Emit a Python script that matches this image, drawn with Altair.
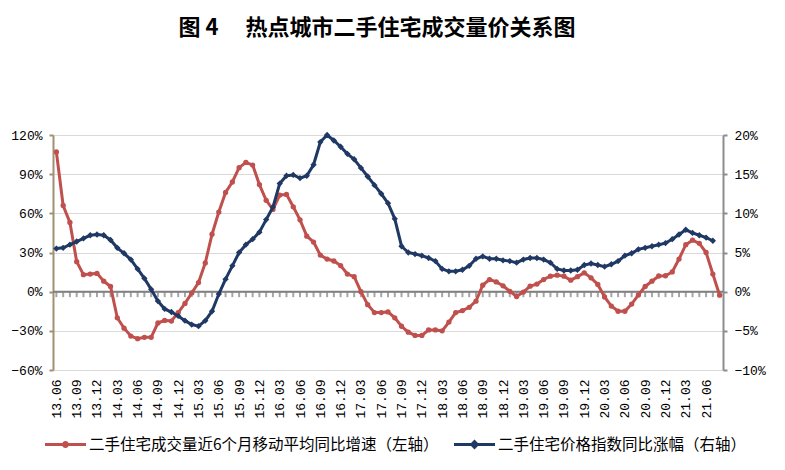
import altair as alt
import pandas as pd

# Month categories 2013.06 ... 2021.08 (labels shown every 3 months)
months = [f"{13 + (5 + k) // 12}.{(5 + k) % 12 + 1:02d}" for k in range(99)]
tick_labels = months[::3]

# 二手住宅成交量近6个月移动平均同比增速 (left axis, %)
red = [107, 66, 53, 23, 13, 13.5, 14, 8, 4, -20,
       -28, -34, -36, -35, -35, -24, -22, -22.5, -16, -9,
       -1, 7, 22, 44, 61, 76, 84, 95, 99, 97,
       82, 70, 63, 74, 74.5, 65, 55, 42.5, 38, 28,
       25, 23.5, 20, 13.5, 11.5, 0, -10, -16, -16, -15.5,
       -20, -26.5, -31, -33.5, -33.5, -29.3, -29.3, -30, -23.3, -16,
       -14.5, -12, -7.3, 5, 9.3, 7.5, 4.5, 0.3, -3.7, -0.3,
       4.2, 5.8, 9.3, 11.9, 12.6, 11.9, 8.8, 11.5, 14.4, 10.6,
       5.5, -4, -11, -15, -15, -9.5, -2.5, 4, 8, 12,
       12.2, 15.1, 25, 36, 39.4, 37, 30, 13.5, -2.7]

# 二手住宅价格指数同比涨幅 (right axis, %)
blue = [5.5, 5.6, 6.0, 6.4, 6.8, 7.2, 7.3, 7.2, 6.6, 5.6,
        4.9, 4.1, 2.9, 1.7, 0.3, -1.2, -2.2, -2.6, -3.1, -3.7,
        -4.2, -4.4, -3.7, -2.5, -0.3, 1.6, 3.3, 5.0, 6.0, 6.7,
        7.6, 9.2, 10.8, 13.8, 14.8, 14.9, 14.5, 14.8, 16.2, 19.1,
        20.0, 19.3, 18.5, 17.6, 16.9, 15.8, 14.7, 13.6, 12.5, 11.3,
        9.3, 5.8, 5.0, 4.8, 4.6, 4.3, 3.9, 2.9, 2.6, 2.6,
        2.8, 3.3, 4.2, 4.5, 4.2, 4.2, 4.0, 3.9, 3.7, 4.1,
        4.3, 4.3, 4.1, 3.7, 2.9, 2.7, 2.7, 2.8, 3.4, 3.6,
        3.4, 3.2, 3.5, 3.9, 4.6, 4.9, 5.4, 5.6, 5.8, 6.0,
        6.2, 6.7, 7.3, 7.9, 7.5, 7.2, 6.9, 6.5]

S1 = "二手住宅成交量近6个月移动平均同比增速（左轴）"
S2 = "二手住宅价格指数同比涨幅（右轴）"
RED = "#C0504D"
BLUE = "#1F3864"
CJK = "Noto Sans CJK SC"
NUM = "Liberation Mono"

# legend symbols: line segment with marker
PATH_RED = ("M-1 -0.075 H1 V0.075 H-1 Z "
            "M0.17 0 A0.17 0.17 0 1 1 -0.17 0 A0.17 0.17 0 1 1 0.17 0 Z")
PATH_BLUE = "M-1 -0.075 H1 V0.075 H-1 Z M0 -0.24 L0.24 0 L0 0.24 L-0.24 0 Z"

df_red = pd.DataFrame({"month": months[:len(red)], "value": red, "series": S1})
df_blue = pd.DataFrame({"month": months[:len(blue)], "value": blue, "series": S2})
df_ticks = pd.DataFrame({"month": months, "value": [0] * len(months)})
df_zero = pd.DataFrame({"value": [0]})

x_enc = alt.X(
    "month:O",
    scale=alt.Scale(type="point", padding=0.5, domain=months),
    axis=alt.Axis(values=tick_labels, labelAngle=270, ticks=False, domain=False,
                  grid=False, labelPadding=9, title=None, labelFont=NUM,
                  labelFontSize=13, labelColor="#000"),
)

yl_scale = alt.Scale(domain=[-60, 120], nice=False, zero=False)
yl_axis = alt.Axis(values=[-60, -30, 0, 30, 60, 90, 120], format="d",
                   labelExpr="datum.label + '%'", grid=True, gridColor="#D9D9D9",
                   gridWidth=1, domainColor="#9F9171", domainWidth=2,
                   tickColor="#9F9171", tickSize=4, tickWidth=2, labelPadding=7,
                   title=None, labelFont=NUM, labelFontSize=13, labelColor="#000")
yr_scale = alt.Scale(domain=[-10, 20], nice=False, zero=False)
yr_axis = alt.Axis(orient="right", values=[-10, -5, 0, 5, 10, 15, 20], format="d",
                   labelExpr="datum.label + '%'", grid=False, domainColor="#8C8C8C",
                   domainWidth=2, tickColor="#8C8C8C", tickSize=4, tickWidth=2,
                   labelPadding=7, title=None, labelFont=NUM, labelFontSize=13,
                   labelColor="#000")

yl = alt.Y("value:Q", scale=yl_scale, axis=yl_axis)
yr = alt.Y("value:Q", scale=yr_scale, axis=yr_axis)

leg = alt.Legend(title=None, orient="none", legendX=-8, legendY=289,
                 direction="horizontal", labelFont=CJK, labelFontSize=15.5,
                 labelColor="#000", labelLimit=600, symbolSize=1681,
                 columnPadding=15, labelOffset=3, symbolStrokeWidth=0)

zero_rule = alt.Chart(df_zero).mark_rule(color="#808080", strokeWidth=2).encode(y=yl)
zero_ticks = alt.Chart(df_ticks).mark_tick(
    orient="vertical", color="#808080", thickness=2, size=5, yOffset=3).encode(x=x_enc, y=yl)
red_line = alt.Chart(df_red).mark_line(color=RED, strokeWidth=3).encode(x=x_enc, y=yl)
red_pts = alt.Chart(df_red).mark_point(filled=True, shape="circle", size=28,
                                       color=RED, opacity=1).encode(x=x_enc, y=yl)
legend_layer = alt.Chart(pd.concat([df_red, df_blue])).transform_filter("false").mark_point(
    filled=True, opacity=1).encode(
    x=x_enc, y=yl,
    color=alt.Color("series:N", scale=alt.Scale(domain=[S1, S2], range=[RED, BLUE]), legend=leg),
    shape=alt.Shape("series:N", scale=alt.Scale(domain=[S1, S2], range=[PATH_RED, PATH_BLUE]), legend=leg),
)

left = alt.layer(zero_rule, zero_ticks, red_line, red_pts, legend_layer)

blue_line = alt.Chart(df_blue).mark_line(color=BLUE, strokeWidth=3).encode(x=x_enc, y=yr)
blue_pts = alt.Chart(df_blue).mark_point(filled=True, shape="diamond", size=40,
                                         color=BLUE, opacity=1).encode(x=x_enc, y=yr)
right = alt.layer(blue_line, blue_pts)

chart = alt.layer(left, right).resolve_scale(y="independent").properties(
    width=670, height=235,
    padding={"left": 2, "top": 9, "right": 5, "bottom": 5},
    title=alt.TitleParams(text="图 4　 热点城市二手住宅成交量价关系图", font=CJK,
                          fontSize=22, fontWeight="bold", color="#000",
                          anchor="middle", frame="group", offset=89, dx=-11),
).configure_view(stroke=None)

chart.save("out.html", embed_options={"renderer": "svg", "actions": False})
